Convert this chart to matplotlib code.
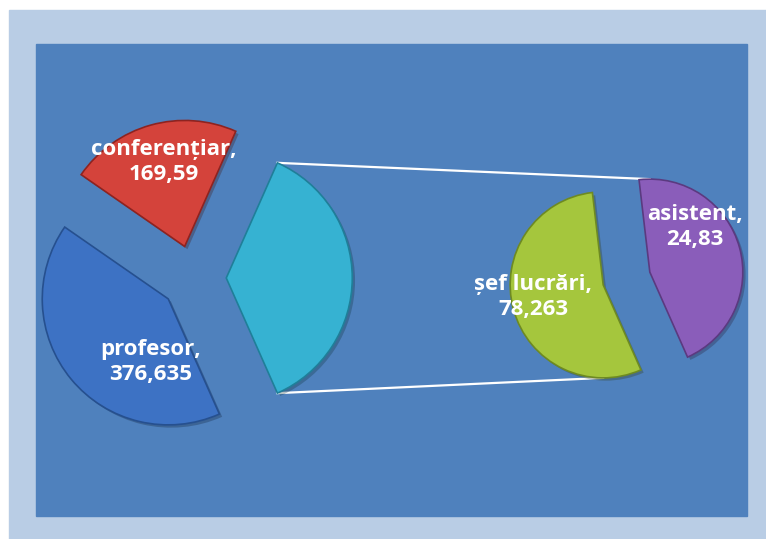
import matplotlib.pyplot as plt
import matplotlib.patheffects as pe
from matplotlib.patches import Rectangle
import numpy as np

# --- date ---
main_names = ['profesor', 'conferențiar']
main_values = [376.635, 169.59]
second_names = ['șef lucrări', 'asistent']
second_values = [78.263, 24.83]

# unghiul fiecarei felii asa cum apare in imagine (%)
main_share = [41.3, 22.0, 36.7]      # profesor, conferentiar, "alte"
second_share = [54.8, 45.2]          # sef lucrari, asistent

main_colors = ['#3D72C4', '#D4433B', '#36B2D2']
second_colors = ['#A5C63D', '#8A5DBA']
edge_colors = ['#26508F', '#8E2320', '#1F7F99', '#6E8A22', '#5B3A80']

W, H = 766, 539
fig = plt.figure(figsize=(W / 100, H / 100), dpi=100, facecolor='white')
ax = fig.add_axes([0, 0, 1, 1])

# fundal (zona graficului + zona de desenare)
ax.add_patch(Rectangle((9, 0), 757, 529, color='#B9CDE5', zorder=0))
ax.add_patch(Rectangle((36, 23), 711, 472, color='#4F81BD', zorder=0))

shadow = [pe.SimplePatchShadow(offset=(2, -2), alpha=0.3), pe.Normal()]

# --- placinta principala ---
r1, c1 = 126, (193.5, 261)
start = -360 * main_share[2] / 100 / 2
w1, _ = ax.pie(main_share, colors=main_colors, radius=r1, center=c1,
               explode=[0.26 * r1] * 3, startangle=start, counterclock=False,
               wedgeprops=dict(linewidth=1.2, path_effects=shadow), frame=True)

# --- placinta secundara ---
r2, c2 = 93, (626.5, 260.5)
w2, _ = ax.pie(second_share, colors=second_colors, radius=r2, center=c2,
               explode=[0.26 * r2] * 2, startangle=start, counterclock=False,
               wedgeprops=dict(linewidth=1.2, path_effects=shadow), frame=True)

for w, ec in zip(list(w1) + list(w2), edge_colors):
    w.set_edgecolor(ec)
    w.set_zorder(3)

# linii de legatura
other = w1[2]
for ang, target in [(max(other.theta1, other.theta2), (w2[1].center[0], w2[1].center[1] + r2)),
                    (min(other.theta1, other.theta2), (w2[0].center[0], w2[0].center[1] - r2))]:
    p = (other.center[0] + r1 * np.cos(np.radians(ang)),
         other.center[1] + r1 * np.sin(np.radians(ang)))
    ax.plot([p[0], target[0]], [p[1], target[1]], color='white', lw=1.6, zorder=2)

# etichete
font = dict(color='white', fontsize=16, fontweight='bold',
            family=['Open Sans', 'DejaVu Sans'], ha='center', va='center',
            linespacing=1.2, zorder=5)
fmt = lambda v: f'{v:g}'.replace('.', ',')
label_pos = [(151, 177), (164, 377), (533, 242), (695, 312)]
names = main_names + second_names
values = main_values + second_values
for (x, y), n, v in zip(label_pos, names, values):
    ax.text(x, y, f'{n},\n{fmt(v)}', **font)

ax.set_xlim(0, W)
ax.set_ylim(0, H)
ax.set_aspect('equal')
ax.axis('off')

fig.savefig('out.png', dpi=100, facecolor='white')
